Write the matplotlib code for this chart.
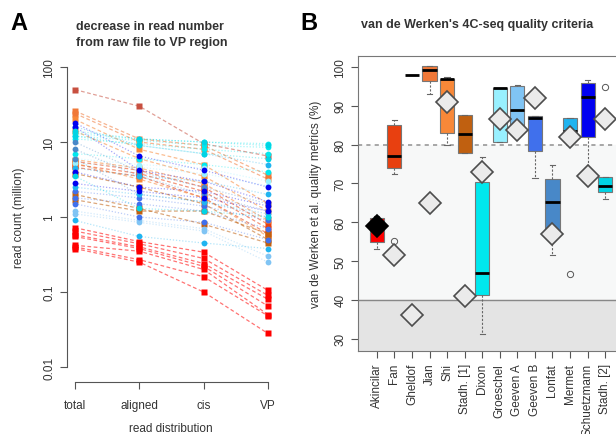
import matplotlib
matplotlib.use("Agg")
import matplotlib.pyplot as plt
import numpy as np

plt.rcParams['font.family'] = ['Liberation Sans', 'DejaVu Sans']

# ---- panel A data: read counts (million) at total, aligned, cis, VP ----
stages = ["total", "aligned", "cis", "VP"]

studies = ["Akincilar", "Fan", "Gheldof", "Jian", "Shi", "Stadh. [1]", "Dixon",
           "Groeschel", "Geeven A", "Geeven B", "Lonfat", "Mermet",
           "Schuetzmann", "Stadh. [2]"]
study_colors = ["#FF0000", "#E84010", "#C85040", "#F07838", "#F88838", "#C06010",
                "#00E8EE", "#98F0FF", "#80C4F4", "#4070EC", "#4888C8", "#20B4F0",
                "#0000F0", "#00D4E4"]
square_studies = 6  # first six studies drawn with squares

reads = {
    "Akincilar": [[0.72, 0.47, 0.34, 0.105], [0.65, 0.44, 0.28, 0.09],
                  [0.58, 0.40, 0.24, 0.08], [0.55, 0.38, 0.22, 0.065],
                  [0.42, 0.35, 0.20, 0.05], [0.40, 0.27, 0.16, 0.048],
                  [0.38, 0.25, 0.10, 0.028]],
    "Fan": [[5.5, 4.2, 2.5, 0.8], [5.0, 3.8, 2.2, 0.7], [4.6, 3.5, 1.8, 0.6]],
    "Gheldof": [[50, 30, 9.5, 6.5]],
    "Jian": [[26, 11, 9, 3.6], [24, 10, 8, 3.2]],
    "Shi": [[20, 8, 5, 1.5], [14, 6, 3.5, 1.2], [5.8, 4.5, 2.8, 0.9],
            [5.2, 3.2, 1.8, 0.55]],
    "Stadh. [1]": [[3.8, 2.5, 1.5, 0.5], [2.0, 1.3, 0.8, 0.45], [1.7, 1.2, 1.2, 0.6]],
    "Dixon": [[13, 11, 10, 9.5], [12, 10.5, 9, 8.5], [11, 9.5, 8, 7], [7, 6, 5, 4]],
    "Groeschel": [[6, 5, 4.5, 3.0], [5.2, 4.6, 3.8, 2.6]],
    "Geeven A": [[1.2, 0.9, 0.7, 0.30], [1.1, 0.85, 0.65, 0.25]],
    "Geeven B": [[2.2, 1.8, 1.4, 0.9], [1.8, 1.5, 1.2, 0.7], [1.5, 1.0, 0.85, 0.5]],
    "Lonfat": [[10, 4.0, 2.5, 1.5], [8, 3.5, 2.0, 1.2], [6, 2.0, 1.6, 1.0]],
    "Mermet": [[16, 9, 7, 5], [4.5, 3.5, 3.0, 2.0], [2.5, 2.0, 1.6, 1.1],
               [0.9, 0.55, 0.45, 0.38]],
    "Schuetzmann": [[18, 6.5, 4.2, 2.5], [16, 4.2, 3.0, 1.6], [4.0, 2.5, 2.2, 1.4],
                    [2.8, 2.2, 1.8, 1.2]],
    "Stadh. [2]": [[14, 11, 10, 9], [12, 9, 7, 6], [3.5, 1.3, 1.2, 1.0]],
}

# ---- panel B data: box statistics per study (%) ----
box_q1 = [55, 74, 98, 96.4, 83, 77.7, 41.1, 80.7, 83.6, 78.4, 57.5, 83.6, 82, 67.7]
box_med = [59, 77.1, 98, 99.3, 96.8, 82.7, 47, 94.6, 88.9, 86.8, 65.2, 83.6, 92.2, 69.4]
box_q3 = [61.1, 85, 98, 100.2, 96.9, 87.7, 70.4, 94.6, 95.2, 87.4, 71.1, 86.9, 95.8, 71.7]
whis_lo = [53, 72.4, 98, 93, 80, 77.7, 31.2, 80.7, 83.6, 71.4, 51.5, 83.6, 74, 66]
whis_hi = [61.5, 86.3, 98, 100.2, 97.5, 87.7, 76.8, 94.6, 95.4, 87.4, 74.6, 86.9, 96.5, 71.7]
outliers = [[], [55.2], [], [], [], [], [], [], [], [], [], [46.6], [], [94.7]]
study_means = [59, 51.5, 36, 65, 91, 41, 73, 86.5, 83.7, 92, 57, 82, 72, 86.5]

W, H = 616, 435
fig = plt.figure(figsize=(W / 100, H / 100), dpi=100)

def px_axes(l, t, r, b):
    return fig.add_axes([l / W, 1 - b / H, (r - l) / W, (b - t) / H])

# ================= panel A =================
axA = px_axes(67, 60, 275, 375)
xs = np.arange(len(stages))
for i, s in enumerate(studies):
    sq = i < square_studies
    for row in reads[s]:
        axA.plot(xs, row, color=study_colors[i], lw=0.9,
                 alpha=0.55 if sq else 0.35,
                 ls=(0, (3, 2)) if sq else (0, (1, 1.5)), zorder=1)
for i, s in enumerate(studies):
    sq = i < square_studies
    for row in reads[s]:
        axA.plot(xs, row, ls="none", marker="s" if sq else "o",
                 ms=4.5 if sq else 4.2, color=study_colors[i], mec="none", zorder=3)

axA.set_yscale("log")
axA.set_ylim(10 ** -2.093, 10 ** 2.107)
axA.set_xlim(-0.124, 3.109)
axA.set_yticks([0.01, 0.1, 1, 10, 100])
axA.set_yticklabels(["0.01", "0.1", "1", "10", "100"], rotation=90, va="center")
axA.minorticks_off()
axA.set_xticks(xs)
axA.set_xticklabels(stages)
for sp in ["top", "right"]:
    axA.spines[sp].set_visible(False)
axA.spines["left"].set_bounds(0.01, 100)
axA.spines["bottom"].set_bounds(0, 3)
axA.spines["bottom"].set_position(("outward", 6))
for sp in ["left", "bottom"]:
    axA.spines[sp].set_color("#555555")
axA.tick_params(colors="#555555", labelcolor="#333333", labelsize=8.5, length=5)
axA.tick_params(axis="x", pad=7)
axA.set_xlabel("read distribution", fontsize=8.5, color="#333333", labelpad=8)
axA.set_ylabel("read count (million)", fontsize=8.5, color="#333333", labelpad=13)
axA.set_facecolor("none")

fig.text(76 / W, 1 - 35 / H, "decrease in read number\nfrom raw file to VP region",
         fontsize=9, fontweight="bold", color="#333333", va="center", ha="left",
         linespacing=1.55)
fig.text(10 / W, 1 - 23 / H, "A", fontsize=17, fontweight="bold", va="center")
fig.text(300 / W, 1 - 23 / H, "B", fontsize=17, fontweight="bold", va="center")
fig.text(477 / W, 1 - 25 / H, "van de Werken's 4C-seq quality criteria",
         fontsize=9, fontweight="bold", color="#333333", va="center", ha="center")

# ================= panel B =================
axB = px_axes(358, 57, 624, 352)
axB.set_xlim(-0.07, 15.07)
axB.set_ylim(26.8, 102.8)
axB.axhspan(40, 80, color="#F7F8F8", zorder=0)
axB.axhspan(0, 40, color="#E4E4E4", zorder=0)
axB.axhline(40, color="#888888", lw=1, zorder=1)
axB.axhline(80, color="#999999", lw=1.2, ls=(0, (2.5, 2.5)), zorder=1)

pos = np.arange(1, len(studies) + 1)
stats = []
for i in range(len(studies)):
    stats.append(dict(med=box_med[i], q1=box_q1[i], q3=box_q3[i],
                      whislo=whis_lo[i], whishi=whis_hi[i], fliers=outliers[i]))
bp = axB.bxp(stats, positions=pos, widths=0.8, patch_artist=True,
             showfliers=True, manage_ticks=False,
             boxprops=dict(edgecolor="#777777", lw=0.8),
             medianprops=dict(color="black", lw=2),
             whiskerprops=dict(color="#666666", lw=0.8, ls=(0, (2, 1.5))),
             capprops=dict(color="#666666", lw=0.8),
             flierprops=dict(marker="o", mfc="none", mec="#555555", ms=4.5, mew=0.7))
for patch, c, q1, q3 in zip(bp["boxes"], study_colors, box_q1, box_q3):
    patch.set_facecolor(c)
    patch.set_zorder(2)
    if q1 == q3:
        patch.set_edgecolor("none")
for cap in bp["caps"]:
    xd = cap.get_xdata()
    m = (xd[0] + xd[1]) / 2
    cap.set_xdata([m - 0.15, m + 0.15])

mean_fill = ["black"] + ["#EBEBEB"] * (len(studies) - 1)
for i in range(len(studies)):
    axB.plot(pos[i], study_means[i], marker="D", ms=11.5, mfc=mean_fill[i],
             mec="#4d4d4d" if i else "black", mew=1.2, zorder=4)

axB.set_yticks([30, 40, 50, 60, 70, 80, 90, 100])
axB.set_yticklabels(["30", "40", "50", "60", "70", "80", "90", "100"],
                    rotation=90, va="center")
axB.set_xticks(pos)
axB.set_xticklabels(studies, rotation=90)
for sp in axB.spines.values():
    sp.set_color("#777777")
axB.tick_params(colors="#555555", labelcolor="#333333", labelsize=8.5, length=5)
axB.set_ylabel("van de Werken et al. quality metrics (%)", fontsize=8.5,
               color="#333333", labelpad=9)

fig.savefig("out.png", dpi=100)
